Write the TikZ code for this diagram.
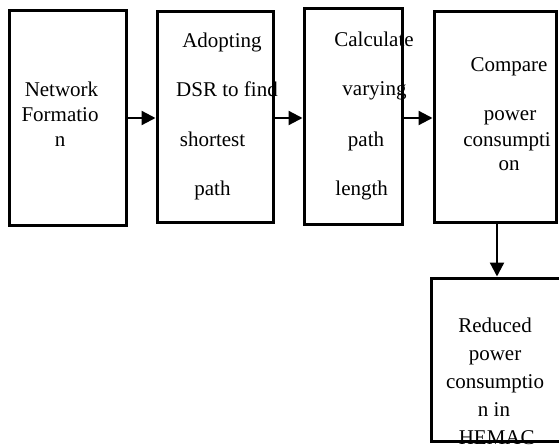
\documentclass[tikz,border=0pt]{standalone}
\usepackage{fontspec}
\setmainfont{Liberation Serif}
\usetikzlibrary{arrows.meta}
\tikzset{
  box/.style={draw, line width=3pt, rectangle, inner sep=0pt},
  txt/.style={inner sep=0pt, anchor=base, font=\fontsize{21}{25}\selectfont},
  arr/.style={line width=2.3pt, -{Triangle[length=14pt,width=14pt]}}
}
\begin{document}
\begin{tikzpicture}[x=1pt,y=-1pt]
\useasboundingbox (0,0) rectangle (559,444);
% texts
\node[txt] (t11) at (61.5,96.7) {Network};
\node[txt] (t12) at (60,121.7) {Formatio};
\node[txt] (t13) at (60,146.7) {n};
\node[txt] (t21) at (222,47.7) {Adopting};
\node[txt] (t22) at (227,96.7) {DSR to find};
\node[txt] (t23) at (212.5,146.7) {shortest};
\node[txt] (t24) at (212.5,195) {path};
\node[txt] (t31) at (374,46.7) {Calculate};
\node[txt] (t32) at (374.5,95) {varying};
\node[txt] (t33) at (366,146.7) {path};
\node[txt] (t34) at (361.7,195) {length};
\node[txt] (t41) at (509,71.7) {Compare};
\node[txt] (t42) at (510,120) {power};
\node[txt] (t43) at (507,146.7) {consumpti};
\node[txt] (t44) at (509,170) {on};
\node[txt] (t51) at (495,332.7) {Reduced};
\node[txt] (t52) at (495,360) {power};
\node[txt] (t53) at (495,388) {consumptio};
\node[txt] (t54) at (494,416.7) {n in};
\node[txt] (t55) at (496.7,444.5) {HEMAC};
% boxes
\node[box, minimum width=117pt, minimum height=214pt] (b1) at (67.5,118) {};
\node[box, minimum width=116pt, minimum height=210pt] (b2) at (215,117) {};
\node[box, minimum width=98pt, minimum height=215pt] (b3) at (353,116.5) {};
\node[box, minimum width=122pt, minimum height=210pt] (b4) at (495,117) {};
\node[box, minimum width=129pt, minimum height=163pt] (b5) at (495.5,359.5) {};
% arrows
\coordinate (a1) at (0,118);
\draw[arr] (b1.east |- a1) -- (b2.west |- a1);
\draw[arr] (b2.east |- a1) -- (b3.west |- a1);
\draw[arr] (b3.east |- a1) -- (b4.west |- a1);
\coordinate (a2) at (497,0);
\draw[arr] (b4.south -| a2) -- (b5.north -| a2);
\end{tikzpicture}
\end{document}
